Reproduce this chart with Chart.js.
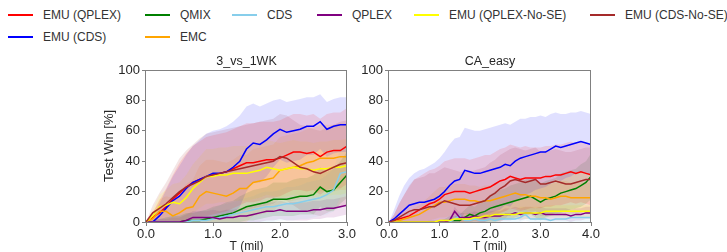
<!DOCTYPE html>
<html>
<head>
<meta charset="utf-8">
<script src="https://cdn.jsdelivr.net/npm/chart.js@4.4.0/dist/chart.umd.min.js"></script>
<style>
  html, body { margin: 0; padding: 0; background: #fff; }
  body { width: 727px; height: 252px; overflow: hidden; position: relative; font-family: "Liberation Sans", Arial, sans-serif; }
  canvas { position: absolute; }
  #legend { position: absolute; left: 0; top: 0; width: 727px; height: 48px; font-size: 12px; color: #333; }
  .voce { position: absolute; height: 14px; line-height: 14px; white-space: nowrap; }
  .voce .linea { position: absolute; left: 0; top: 6px; width: 25px; height: 2px; }
  .voce .testo { position: absolute; left: 35px; top: 0; }
</style>
</head>
<body>
<div id="legend"></div>
<canvas id="left" width="261" height="206" style="left:98px; top:50px"></canvas>
<canvas id="right" width="262" height="206" style="left:341px; top:50px"></canvas>

<script>
// series, in plotting order
const nomi = ['EMU (QPLEX)', 'EMU (CDS)', 'QMIX', 'EMC', 'CDS', 'QPLEX', 'EMU (QPLEX-No-SE)', 'EMU (CDS-No-SE)'];
const colori = ['#ff0000', '#0000ff', '#008000', '#ffa500', '#87ceeb', '#800080', '#ffff00', '#a52a2a'];

// 3_vs_1WK (T in mil)
const tWk = [0, 0.1, 0.2, 0.3, 0.4, 0.5, 0.6, 0.7, 0.8, 0.9, 1.0, 1.1, 1.2, 1.3, 1.4, 1.5, 1.6, 1.7, 1.8, 1.9, 2.0, 2.1, 2.2, 2.3, 2.4, 2.5, 2.6, 2.7, 2.8, 2.9, 3.0];
const wkEmuQplex   = [0, 3, 6, 10, 15, 19, 23, 26, 28, 30, 31, 32, 33, 35, 37, 39, 39, 40, 41, 41, 42, 44, 46, 46, 45, 46, 43, 46, 47, 47, 50];
const wkEmuCds     = [0, 0, 4, 9, 14, 17, 22, 26, 28, 30, 32, 32, 33, 36, 40, 48, 52, 51, 54, 58, 61, 59, 60, 61, 63, 63, 66, 61, 63, 64, 64];
const wkQmix       = [0, 0, 0, 0, 0, 0, 1, 1, 1, 2, 3, 4, 5, 6, 8, 10, 11, 12, 13, 15, 15, 15, 16, 17, 17, 18, 23, 20, 21, 26, 31];
const wkEmc        = [0, 2, 7, 7, 4, 6, 9, 10, 17, 20, 19, 18, 17, 19, 22, 22, 26, 27, 28, 29, 34, 35, 36, 37, 39, 40, 42, 42, 42, 43, 43];
const wkCds        = [0, 0, 0, 0, 0, 0, 0, 1, 1, 1, 2, 3, 4, 5, 6, 7, 8, 9, 10, 10, 11, 12, 12, 13, 14, 15, 16, 18, 21, 32, 33];
const wkQplex      = [0, 0, 0, 0, 0, 0, 1, 3, 3, 3, 3, 2, 3, 3, 4, 4, 5, 6, 7, 7, 8, 7, 7, 7, 7, 8, 8, 9, 9, 10, 11];
const wkQplexNoSe  = [0, 4, 10, 11, 13, 12, 16, 22, 26, 30, 30, 31, 31, 32, 32, 32, 33, 34, 36, 35, 34, 35, 36, 35, 35, 34, 35, 35, 36, 36, 37];
const wkCdsNoSe    = [0, 6, 9, 12, 16, 20, 23, 25, 27, 30, 31, 32, 33, 34, 35, 36, 37, 38, 39, 40, 43, 42, 39, 36, 35, 33, 32, 34, 36, 38, 39];
// std bands
const wkEmuQplexSd  = [0, 3, 8, 12, 16, 20, 22, 24, 25, 26, 26, 26, 26, 26, 26, 26, 26, 26, 25, 25, 25, 25, 25, 25, 25, 25, 25, 25, 25, 25, 25];
const wkEmuCdsSd    = [0, 3, 8, 12, 16, 20, 22, 24, 26, 28, 28, 29, 30, 30, 30, 28, 26, 25, 24, 22, 20, 20, 20, 20, 19, 19, 18, 18, 18, 18, 18];
const wkQmixSd      = [0, 1, 2, 3, 4, 4, 5, 5, 6, 6, 7, 7, 8, 8, 9, 9, 10, 10, 10, 11, 11, 11, 12, 12, 12, 13, 13, 13, 14, 14, 15];
const wkEmcSd       = [0, 4, 8, 10, 12, 14, 16, 18, 20, 21, 22, 22, 22, 22, 22, 22, 22, 22, 22, 22, 22, 22, 22, 22, 22, 22, 22, 22, 22, 22, 22];
const wkCdsSd       = [0, 1, 2, 3, 4, 5, 5, 6, 6, 7, 7, 8, 8, 8, 9, 9, 9, 10, 10, 10, 10, 11, 11, 11, 12, 12, 12, 13, 14, 16, 16];
const wkQplexSd     = [0, 1, 2, 2, 3, 3, 4, 4, 4, 4, 5, 5, 5, 5, 5, 5, 6, 6, 6, 6, 6, 6, 6, 6, 6, 6, 6, 6, 6, 6, 6];
const wkQplexNoSeSd = [0, 4, 8, 10, 12, 14, 15, 16, 17, 18, 18, 18, 18, 18, 18, 18, 18, 18, 18, 18, 18, 18, 18, 18, 18, 18, 18, 18, 18, 18, 18];
const wkCdsNoSeSd   = [0, 5, 10, 14, 18, 22, 24, 26, 28, 28, 28, 28, 28, 28, 28, 28, 28, 28, 28, 28, 28, 28, 28, 28, 28, 28, 28, 28, 28, 28, 28];

// CA_easy
const tCa = [0, 0.1, 0.2, 0.3, 0.4, 0.5, 0.6, 0.7, 0.8, 0.9, 1.0, 1.1, 1.2, 1.3, 1.4, 1.5, 1.6, 1.7, 1.8, 1.9, 2.0, 2.1, 2.2, 2.3, 2.4, 2.5, 2.6, 2.7, 2.8, 2.9, 3.0, 3.1, 3.2, 3.3, 3.4, 3.5, 3.6, 3.7, 3.8, 3.9, 4.0];
const caEmuQplex   = [0, 1, 2, 3, 4, 6, 8, 10, 12, 13, 15, 18, 19, 20, 20, 20, 19, 20, 21, 22, 23, 25, 27, 28, 30, 29, 28, 29, 29, 29, 29, 30, 30, 31, 31, 32, 33, 32, 33, 32, 31];
const caEmuCds     = [0, 2, 5, 8, 11, 12, 13, 13, 14, 15, 17, 20, 24, 27, 28, 34, 33, 32, 32, 33, 34, 35, 36, 38, 37, 40, 42, 43, 44, 45, 46, 46, 48, 50, 49, 50, 51, 52, 53, 52, 51];
const caQmix       = [0, 0, 0, 0, 0, 0, 0, 0, 0, 0, 0, 0, 1, 1, 1, 3, 5, 4, 6, 7, 9, 10, 11, 12, 13, 14, 15, 16, 17, 15, 13, 15, 16, 17, 19, 20, 21, 22, 24, 26, 30];
const caEmc        = [0, 0, 1, 2, 3, 4, 5, 7, 9, 11, 13, 13, 14, 15, 15, 15, 14, 14, 13, 14, 14, 15, 16, 17, 18, 19, 18, 18, 17, 17, 16, 16, 15, 16, 17, 17, 16, 16, 16, 16, 16];
const caCds        = [0, 0, 0, 0, 0, 0, 0, 0, 0, 0, 0, 0, 0, 2, 4, 1, 1, 2, 1, 1, 2, 1, 2, 2, 2, 2, 3, 5, 2, 2, 2, 2, 1, 2, 2, 2, 3, 3, 3, 3, 3];
const caQplex      = [0, 0, 0, 0, 0, 0, 0, 0, 0, 0, 0, 0, 1, 7, 3, 3, 3, 4, 3, 3, 4, 4, 4, 5, 5, 6, 5, 6, 6, 5, 6, 5, 5, 5, 5, 5, 4, 5, 5, 6, 6];
const caQplexNoSe  = [0, 0, 0, 0, 0, 0, 0, 0, 0, 0, 1, 1, 1, 2, 2, 2, 2, 3, 3, 4, 4, 5, 5, 5, 5, 5, 6, 6, 6, 6, 6, 7, 7, 7, 7, 7, 7, 7, 7, 7, 7];
const caCdsNoSe    = [0, 1, 3, 5, 7, 8, 8, 9, 10, 10, 12, 14, 13, 12, 11, 11, 11, 12, 13, 14, 17, 19, 22, 24, 27, 28, 27, 26, 27, 28, 25, 25, 26, 27, 26, 25, 25, 26, 27, 28, 28];
const caEmuQplexSd  = [0, 4, 10, 15, 19, 22, 22, 22, 22, 22, 22, 22, 22, 22, 22, 22, 22, 22, 22, 22, 21, 21, 21, 21, 21, 21, 21, 21, 20, 20, 20, 20, 20, 20, 20, 20, 20, 20, 20, 20, 20];
const caEmuCdsSd    = [0, 6, 12, 16, 18, 20, 21, 22, 23, 24, 25, 26, 27, 28, 28, 28, 28, 28, 28, 28, 28, 28, 28, 27, 27, 26, 26, 25, 25, 24, 24, 23, 23, 22, 22, 21, 21, 20, 20, 20, 20];
const caQmixSd      = [0, 0, 0, 0, 0, 0, 0, 0, 1, 1, 1, 2, 3, 3, 4, 5, 6, 6, 7, 8, 9, 10, 10, 10, 11, 11, 11, 12, 12, 12, 12, 12, 12, 12, 13, 13, 13, 13, 14, 14, 15];
const caEmcSd       = [0, 1, 2, 3, 4, 5, 6, 7, 8, 9, 10, 10, 10, 10, 10, 10, 10, 10, 10, 10, 10, 10, 10, 10, 10, 10, 10, 10, 10, 10, 10, 10, 10, 10, 10, 10, 10, 10, 10, 10, 10];
const caCdsSd       = [0, 0, 0, 0, 0, 0, 0, 0, 0, 0, 0, 0, 1, 2, 3, 2, 2, 2, 2, 2, 2, 2, 3, 3, 3, 3, 3, 4, 3, 3, 3, 3, 3, 3, 3, 3, 3, 3, 3, 3, 3];
const caQplexSd     = [0, 0, 0, 0, 0, 0, 0, 0, 0, 0, 0, 1, 1, 3, 3, 3, 3, 3, 3, 3, 3, 3, 3, 4, 4, 4, 4, 4, 4, 4, 4, 4, 4, 4, 4, 4, 4, 4, 4, 4, 4];
const caQplexNoSeSd = [0, 0, 0, 0, 0, 0, 0, 0, 0, 0, 1, 1, 1, 1, 2, 2, 2, 2, 2, 3, 3, 3, 3, 3, 3, 3, 4, 4, 4, 4, 4, 4, 4, 4, 4, 4, 4, 4, 4, 4, 4];
const caCdsNoSeSd   = [0, 4, 9, 13, 17, 20, 21, 21, 22, 22, 22, 22, 22, 22, 22, 22, 22, 22, 22, 22, 22, 22, 22, 22, 21, 21, 21, 21, 21, 21, 21, 21, 21, 21, 21, 21, 21, 21, 21, 21, 21];

const yTicks = [0, 20, 40, 60, 80, 100];

function rgba(hex, a) {
  const n = parseInt(hex.slice(1), 16);
  return `rgba(${n >> 16}, ${(n >> 8) & 255}, ${n & 255}, ${a})`;
}

const cornice = {
  id: 'cornice',
  afterDraw(chart) {
    const { ctx, chartArea: a } = chart;
    ctx.save();
    ctx.strokeStyle = '#808080';
    ctx.lineWidth = 1;
    ctx.strokeRect(Math.round(a.left) - 0.5, Math.round(a.top) + 0.5, Math.round(a.right - a.left), Math.round(a.bottom - a.top));
    ctx.fillStyle = '#262626';
    ctx.font = '12.5px "Liberation Sans", Arial, sans-serif';
    ctx.textAlign = 'center';
    ctx.textBaseline = 'middle';
    ctx.fillText(chart.options.titolo, (a.left + a.right) / 2, a.top - 8);
    ctx.restore();
  }
};

function creaPannello(id, titolo, tempi, medie, dev, maxT, yTitolo) {
  const datasets = [];
  medie.forEach((m, i) => {
    const lo = m.map((v, k) => ({ x: tempi[k], y: Math.max(0, v - dev[i][k]) }));
    const hi = m.map((v, k) => ({ x: tempi[k], y: Math.min(100, v + dev[i][k]) }));
    datasets.push({ data: lo, borderWidth: 0, pointRadius: 0, fill: false, order: 50 });
    datasets.push({ data: hi, borderWidth: 0, pointRadius: 0, fill: '-1', backgroundColor: rgba(colori[i], 0.12), order: 50 });
  });
  medie.forEach((m, i) => {
    datasets.push({
      data: m.map((v, k) => ({ x: tempi[k], y: v })),
      borderColor: colori[i], borderWidth: 1.5, pointRadius: 0, fill: false, order: 20 - i
    });
  });

  const griglia = { drawOnChartArea: false, drawTicks: true, tickLength: 4, color: '#808080' };
  return new Chart(document.getElementById(id), {
    type: 'line',
    data: { datasets },
    options: {
      titolo,
      responsive: false,
      animation: false,
      layout: { padding: { top: 20, right: 12, left: 0, bottom: 0 } },
      elements: { line: { tension: 0 } },
      plugins: { legend: { display: false }, tooltip: { enabled: false } },
      scales: {
        x: {
          type: 'linear', min: 0, max: maxT,
          ticks: { stepSize: 1, callback: v => v.toFixed(1), color: '#262626', font: { size: 13, family: '"Liberation Sans", Arial, sans-serif' }, padding: 1, maxRotation: 0, autoSkip: false },
          grid: griglia, border: { display: false },
          title: { display: true, text: 'T (mil)', color: '#262626', font: { size: 12, family: '"Liberation Sans", Arial, sans-serif' }, padding: { top: 0, bottom: 2 } },
          afterFit: s => { s.height = 34; }
        },
        y: {
          min: 0, max: 100,
          afterBuildTicks: s => { s.ticks = yTicks.map(v => ({ value: v })); },
          ticks: { color: '#262626', font: { size: 13, family: '"Liberation Sans", Arial, sans-serif' }, padding: 2 },
          grid: griglia, border: { display: false },
          title: { display: !!yTitolo, text: yTitolo || '', color: '#262626', font: { size: 13, family: '"Liberation Sans", Arial, sans-serif' }, padding: { top: 4, bottom: 0 } },
          afterFit: s => { s.width = 48; }
        }
      }
    },
    plugins: [cornice]
  });
}

function creaLegenda() {
  const colonne = [8, 145, 232, 317, 414, 590];
  const righe = [8, 30];
  // matplotlib fills the 6 columns top to bottom
  const posto = [[0, 0], [0, 1], [1, 0], [1, 1], [2, 0], [3, 0], [4, 0], [5, 0]];
  const box = document.getElementById('legend');
  box.innerHTML = nomi.map((n, i) => `
    <div class="voce" style="left:${colonne[posto[i][0]]}px; top:${righe[posto[i][1]]}px">
      <span class="linea" style="background:${colori[i]}"></span>
      <span class="testo">${n}</span>
    </div>`).join('');
}

document.addEventListener('DOMContentLoaded', () => {
  creaLegenda();
  creaPannello('left', '3_vs_1WK', tWk,
    [wkEmuQplex, wkEmuCds, wkQmix, wkEmc, wkCds, wkQplex, wkQplexNoSe, wkCdsNoSe],
    [wkEmuQplexSd, wkEmuCdsSd, wkQmixSd, wkEmcSd, wkCdsSd, wkQplexSd, wkQplexNoSeSd, wkCdsNoSeSd],
    3, 'Test Win [%]');
  creaPannello('right', 'CA_easy', tCa,
    [caEmuQplex, caEmuCds, caQmix, caEmc, caCds, caQplex, caQplexNoSe, caCdsNoSe],
    [caEmuQplexSd, caEmuCdsSd, caQmixSd, caEmcSd, caCdsSd, caQplexSd, caQplexNoSeSd, caCdsNoSeSd],
    4, '');
});
</script>
</body>
</html>
